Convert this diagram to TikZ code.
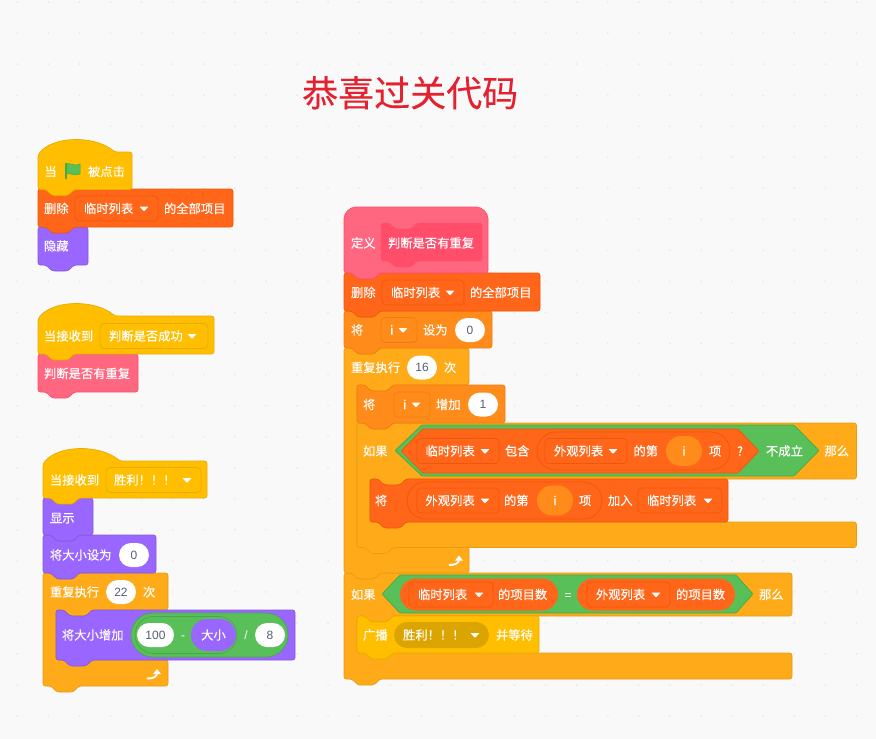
\documentclass[tikz,border=0pt]{standalone}
\usepackage{fontspec}
\setmainfont{Noto Sans CJK SC}[FakeBold=0.2]
\newfontfamily\numfont{Liberation Sans}
\usetikzlibrary{shapes.misc,arrows.meta}

\definecolor{pagebg}{HTML}{F9F9F9}
\definecolor{griddot}{HTML}{E6E6E6}
\definecolor{eventfill}{HTML}{FFBF00}
\definecolor{eventline}{HTML}{E6AC00}
\definecolor{listfill}{HTML}{FF661A}
\definecolor{listline}{HTML}{F0550A}
\definecolor{varfill}{HTML}{FF8C1A}
\definecolor{varline}{HTML}{EE7D10}
\definecolor{ctrlfill}{HTML}{FFAB19}
\definecolor{ctrlline}{HTML}{E89C16}
\definecolor{looksfill}{HTML}{9966FF}
\definecolor{looksline}{HTML}{855CD6}
\definecolor{opfill}{HTML}{59C059}
\definecolor{opline}{HTML}{48A848}
\definecolor{mydeffill}{HTML}{FF6680}
\definecolor{mydefline}{HTML}{FF4D6A}
\definecolor{numgrey}{HTML}{575E75}
\definecolor{titlered}{HTML}{E4212E}
\definecolor{pickfill}{HTML}{DBA400}

\tikzset{
  eventblock/.style={fill=eventfill,draw=eventline,line width=0.7pt},
  listblock/.style={fill=listfill,draw=listline,line width=0.7pt},
  varblock/.style={fill=varfill,draw=varline,line width=0.7pt},
  ctrlblock/.style={fill=ctrlfill,draw=ctrlline,line width=0.7pt},
  looksblock/.style={fill=looksfill,draw=looksline,line width=0.7pt},
  mydefblock/.style={fill=mydeffill,draw=mydefline,line width=0.7pt},
  opblock/.style={fill=opfill,draw=opline,line width=0.7pt},
  lbltext/.style={anchor=base west,inner sep=0pt,outer sep=0pt,yshift=-4.6pt,text=white,font=\fontsize{12.3}{14}\selectfont},
  midtext/.style={lbltext,anchor=base},
  symtext/.style={midtext,font=\numfont\fontsize{12}{14}\selectfont},
  numoval/.style={rounded rectangle,fill=white,inner sep=0pt,outer sep=0pt,minimum width=30pt,minimum height=24pt,text=numgrey,font=\numfont\fontsize{12}{14}\selectfont},
  titletext/.style={anchor=base west,inner sep=0pt,text=titlered,font=\fontsize{36}{40}\selectfont},
  dropbox/.style={rounded corners=4pt},
  looparrow/.style={draw=white,line width=1.9pt,-{Triangle[length=5pt,width=7.5pt]}},
}

% block with notch on top and bump below: x, y, width, height, style
\newcommand{\stackblock}[5]{
  \begin{scope}[shift={(#1,#2)}]
    \draw[#5,rounded corners=2.5pt] (0,0) -- (8,0) -- (14,6) -- (30,6) -- (36,0) -- (#3,0) -- (#3,#4)
      -- (36,#4) -- (30,{#4+6}) -- (14,{#4+6}) -- (8,#4) -- (0,#4) -- cycle;
  \end{scope}
}
% hat block: x, y of the flat top, width, height, style
\newcommand{\hatblock}[5]{
  \begin{scope}[shift={(#1,#2)}]
    \draw[#5,rounded corners=2.5pt] (0,3) .. controls (14,-16) and (56,-17) .. (77,0) -- (#3,0) -- (#3,#4)
      -- (36,#4) -- (30,{#4+6}) -- (14,{#4+6}) -- (8,#4) -- (0,#4) -- cycle;
  \end{scope}
}
% c shaped block: x, y, head width, head height, arm offset, arm height, arm width, style
\newcommand{\cblock}[8]{
  \begin{scope}[shift={(#1,#2)}]
    \draw[#8,rounded corners=2.5pt] (0,0) -- (8,0) -- (14,6) -- (30,6) -- (36,0) -- (#3,0) -- (#3,#4)
      -- (49,#4) -- (43,{#4+6}) -- (27,{#4+6}) -- (21,#4) -- (13,#4) -- (13,#5) -- (#7,#5)
      -- (#7,{#5+#6}) -- (36,{#5+#6}) -- (30,{#5+#6+6}) -- (14,{#5+#6+6}) -- (8,{#5+#6}) -- (0,{#5+#6}) -- cycle;
  \end{scope}
}
% dropdown: name, x1, x2, y centre, text, style, text inset, arrow inset
\newcommand{\dropfield}[8]{
  \draw[#6,dropbox] (#2,{#4-12.5}) rectangle (#3,{#4+12.5});
  \node[lbltext] (#1) at ({#2+#7},#4) {#5};
  \fill[white,rounded corners=0.7pt] ({#3-#8-4.5},{#4-2}) -- ({#3-#8+4.5},{#4-2}) -- ({#3-#8},{#4+3}) -- cycle;
}
% capsule outline: name, x1, x2, y centre, height, style
\newcommand{\capsule}[6]{
  \node[rounded rectangle,#6,inner sep=0pt,outer sep=0pt,minimum width={(#3-#2)*1pt},minimum height={#5*1pt}] (#1) at ({(#2+#3)/2},#4) {};
}
% hexagon: x1, x shoulder, x shoulder, x2, y1, y2, style
\newcommand{\hexbox}[7]{
  \draw[#7,rounded corners=1pt] (#1,{(#5+#6)/2}) -- (#2,#5) -- (#3,#5) -- (#4,{(#5+#6)/2}) -- (#3,#6) -- (#2,#6) -- cycle;
}

\begin{document}
\begin{tikzpicture}[x=1pt,y=-1pt]
    \useasboundingbox (0,0) rectangle (876,739);
    \fill[pagebg] (0,0) rectangle (876,739);
    \foreach \i in {0,...,27}
      \foreach \j in {0,...,23}
        \fill[griddot] ({17.3+31.08*\i},{2+31.05*\j}) circle (0.9);

    \node[titletext] (title) at (302,106.5) {恭喜过关代码};

    % flag group
    \stackblock{38}{227}{50}{38}{looksblock}
    \stackblock{38}{189}{195}{38}{listblock}
    \hatblock{38}{152}{94}{37.5}{eventblock}
    \node[lbltext] (flagwhen) at (44.5,171.5) {当};
    \fill[opfill,draw=opline,line width=0.5pt] (66,164) .. controls (70,162) and (73,167) .. (80,164)
      -- (80,174) .. controls (74,177) and (70,172) .. (66,174) -- cycle;
    \draw[opline,line width=1.4pt] (66,163) -- (66,179);
    \node[lbltext] (flagclick) at (88,171.5) {被点击};
    \node[lbltext] (clearone) at (44,208.5) {删除};
    \dropfield{clearonelist}{75}{158}{208.5}{临时列表}{listblock}{9}{14}
    \node[lbltext] (clearoneall) at (164,208.5) {的全部项目};
    \node[lbltext] (hideit) at (44,246) {隐藏};

    % receive group
    \stackblock{38}{354}{100}{38}{mydefblock}
    \hatblock{38}{316}{176}{38}{eventblock}
    \node[lbltext] (recvone) at (44,336) {当接收到};
    \dropfield{recvonemsg}{100}{208}{336}{判断是否成功}{eventblock}{9}{16}
    \node[lbltext] (callcheck) at (44,373.5) {判断是否有重复};

    % win group
    \cblock{43}{573}{125}{37}{87}{26}{125}{ctrlblock}
    \stackblock{43}{535}{113}{38}{looksblock}
    \stackblock{43}{498}{50}{37}{looksblock}
    \hatblock{43}{461}{164}{37}{eventblock}
    \stackblock{56}{610}{239}{50}{looksblock}
    \node[lbltext] (recvtwo) at (50,480) {当接收到};
    \dropfield{recvtwomsg}{106}{201}{480}{胜利！！！}{eventblock}{8}{14}
    \node[lbltext] (showit) at (50,518) {显示};
    \node[lbltext] (setsize) at (50,555) {将大小设为};
    \node[numoval] (setsizeval) at (134,555) {0};
    \node[lbltext] (winrepeat) at (50,592) {重复执行};
    \node[numoval] (winrepeatval) at (121,592) {22};
    \node[lbltext] (winrepeatend) at (143,592) {次};
    \node[lbltext] (growsize) at (62,635) {将大小增加};
    \capsule{growdiv}{131}{288}{635}{44}{opblock}
    \capsule{growsub}{135}{237}{635}{37}{opblock}
    \node[numoval,minimum width=37pt] (growhundred) at (155.5,635) {100};
    \node[symtext] (growminus) at (183,635) {-};
    \capsule{growsizeoval}{191}{236}{635}{32}{fill=looksfill}
    \node[midtext] (growsizetext) at (213.5,635) {大小};
    \node[symtext] (growslash) at (246,635) {/};
    \node[numoval] (groweight) at (270,635) {8};
    \draw[looparrow] (147,678.5) .. controls (153,679) and (157,676) .. (157,669);

    % define stack, lower part first
    \cblock{344}{573}{448}{43}{80}{26}{448}{ctrlblock}
    \stackblock{357}{616}{182}{37}{eventblock}
    \cblock{344}{348}{125}{37}{199}{26}{125}{ctrlblock}
    \cblock{357}{423}{499.5}{56}{99}{25.5}{499.5}{ctrlblock}
    \stackblock{370}{479}{358}{43}{listblock}
    \stackblock{357}{385}{148}{38}{varblock}
    \stackblock{344}{311}{148}{37}{varblock}
    \stackblock{344}{273}{196}{38}{listblock}
    \begin{scope}[shift={(344,207)}]
      \draw[mydefblock,rounded corners=2.5pt] (0,14) .. controls (0,6) and (6,0) .. (14,0) -- (130,0)
        .. controls (138,0) and (144,6) .. (144,14) -- (144,66) -- (36,66) -- (30,72) -- (14,72) -- (8,66) -- (0,66) -- cycle;
    \end{scope}
    \stackblock{381}{223}{101}{38}{fill=mydefline,draw=mydefline}
    \node[lbltext] (defword) at (351,243) {定义};
    \node[lbltext] (defname) at (388,243) {判断是否有重复};

    \node[lbltext] (cleartwo) at (351,292.5) {删除};
    \dropfield{cleartwolist}{382}{464}{292.5}{临时列表}{listblock}{9}{14}
    \node[lbltext] (cleartwoall) at (470,292.5) {的全部项目};

    \node[lbltext] (setword) at (351,330) {将};
    \dropfield{setvar}{381}{417}{330}{i}{varblock}{9}{14}
    \node[lbltext] (setto) at (423,330) {设为};
    \node[numoval] (setval) at (470,330) {0};

    \node[lbltext] (repword) at (351,367.5) {重复执行};
    \node[numoval] (repval) at (422,367.5) {16};
    \node[lbltext] (repend) at (444,367.5) {次};

    \node[lbltext] (incword) at (363,404.5) {将};
    \dropfield{incvar}{394}{430}{404.5}{i}{varblock}{9}{14}
    \node[lbltext] (incby) at (436,404.5) {增加};
    \node[numoval] (incval) at (483,404.5) {1};

    % first if, its condition
    \node[lbltext] (ifone) at (363,451) {如果};
    \hexbox{395}{422}{794}{819}{425}{476}{opblock}
    \hexbox{401}{423}{738}{759}{429}{473}{listblock}
    \dropfield{iflist}{417}{499}{451}{临时列表}{listblock}{8.5}{14}
    \node[lbltext] (ifhas) at (505,451) {包含};
    \capsule{ifitem}{537}{730}{451}{38}{listblock}
    \dropfield{ifitemlist}{545}{627}{451}{外观列表}{listblock}{9}{14}
    \node[lbltext] (ifitemnth) at (633.5,451) {的第};
    \capsule{ifitemi}{666}{702}{451}{30}{fill=varfill}
    \node[midtext] (ifitemitext) at (684,451) {i};
    \node[lbltext] (ifitemend) at (709,451) {项};
    \node[midtext] (ifask) at (740,451) {?};
    \node[lbltext] (ifnot) at (766,451) {不成立};
    \node[lbltext] (ifthen) at (824.5,451) {那么};

    \node[lbltext] (addword) at (375,500.5) {将};
    \capsule{additem}{407}{602}{500.5}{37}{listblock}
    \dropfield{additemlist}{417}{499}{500.5}{外观列表}{listblock}{8.5}{14}
    \node[lbltext] (additemnth) at (504,500.5) {的第};
    \capsule{additemi}{537}{573}{500.5}{30}{fill=varfill}
    \node[midtext] (additemitext) at (555,500.5) {i};
    \node[lbltext] (additemend) at (579,500.5) {项};
    \node[lbltext] (addto) at (608,500.5) {加入};
    \dropfield{addlist}{638}{722}{500.5}{临时列表}{listblock}{9}{14}
    \draw[looparrow] (449,565) .. controls (455,565.5) and (459,562.5) .. (459,555.5);

    % second if
    \node[lbltext] (iftwo) at (351,594.5) {如果};
    \hexbox{382}{400}{736}{753}{575}{613}{opblock}
    \capsule{lenone}{400}{558}{594.5}{32}{fill=listfill}
    \dropfield{lenonelist}{409}{493}{594.5}{临时列表}{listblock}{9}{14}
    \node[lbltext] (lenoneword) at (498,594.5) {的项目数};
    \node[symtext] (iftwoeq) at (568,594.5) {=};
    \capsule{lentwo}{577}{735}{594.5}{32}{fill=listfill}
    \dropfield{lentwolist}{587}{670}{594.5}{外观列表}{listblock}{9}{14}
    \node[lbltext] (lentwoword) at (676,594.5) {的项目数};
    \node[lbltext] (iftwothen) at (759,594.5) {那么};

    \node[lbltext] (sendword) at (363,635) {广播};
    \capsule{sendmsg}{394}{489}{635}{26}{fill=pickfill}
    \node[lbltext] (sendmsgtext) at (403,635) {胜利！！！};
    \fill[white,rounded corners=0.7pt] (470.5,633) -- (479.5,633) -- (475,638) -- cycle;
    \node[lbltext] (sendwait) at (496,635) {并等待};
\end{tikzpicture}
\end{document}
